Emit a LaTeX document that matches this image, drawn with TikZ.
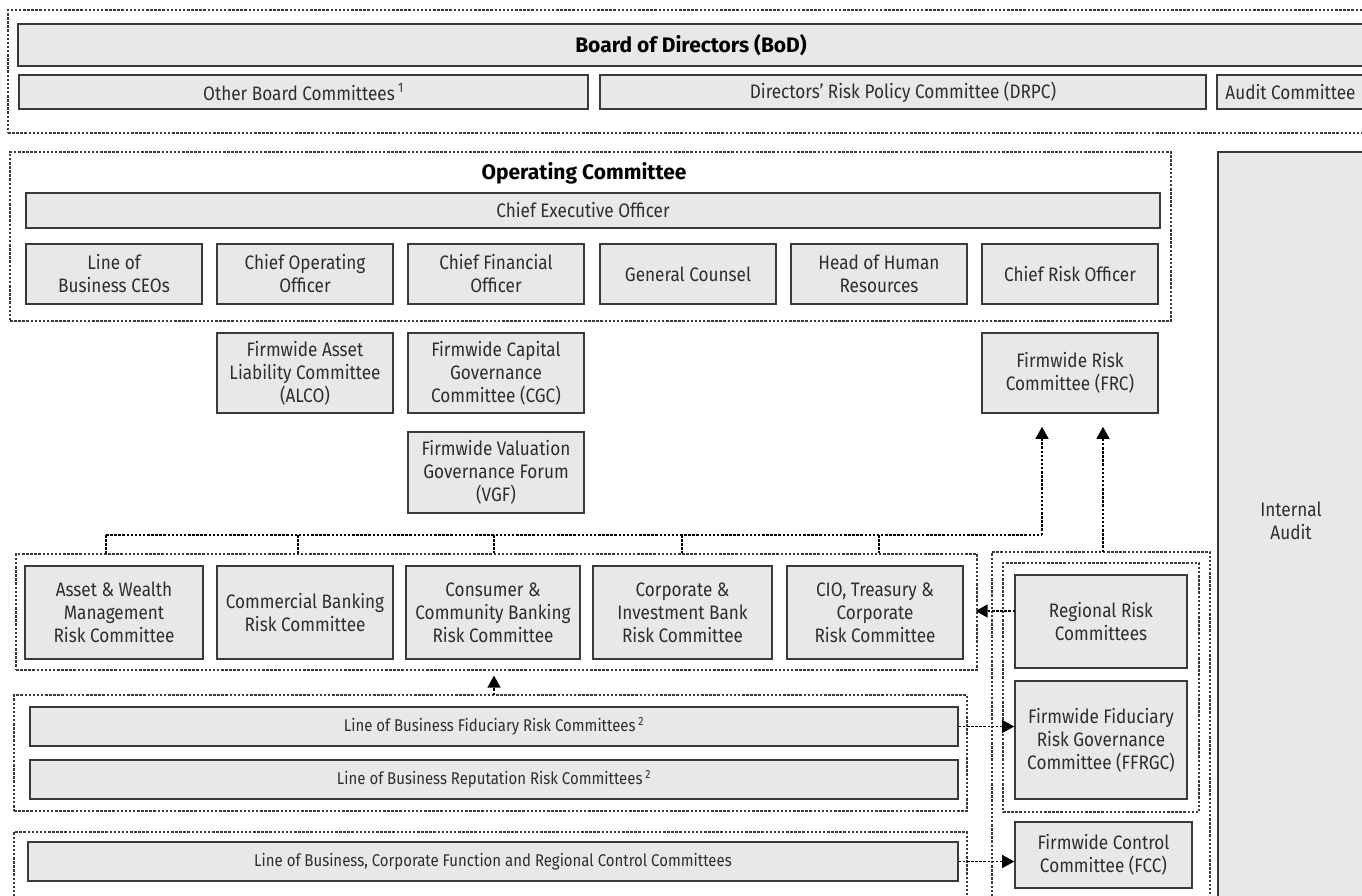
\documentclass[tikz,border=0pt]{standalone}
\usepackage{fontspec}
\setmainfont{Fira Sans}[FakeStretch=0.88]
\newfontfamily\titlefont{Fira Sans}
\usetikzlibrary{arrows.meta,calc}
\definecolor{boxfill}{HTML}{E8E8E8}
\definecolor{boxline}{HTML}{3A3A3A}
\definecolor{txt}{HTML}{2E2E2E}
\tikzset{
  box/.style={draw=boxline, fill=boxfill, line width=1.6pt, inner sep=0pt, align=center, text=txt, font=\fontsize{19.5}{23}\selectfont},
  grp/.style={draw=boxline, line width=1.2pt, dash pattern=on 2.5pt off 1.6pt, inner sep=0pt},
  conn/.style={draw=black, line width=1.3pt, dash pattern=on 2.5pt off 1.6pt},
  arr/.style={conn, -{Triangle[width=13pt,length=12pt]}},
  lbl/.style={text=txt, align=center, inner sep=0pt, font=\fontsize{19.5}{23}\selectfont},
  title/.style={text=black, inner sep=0pt, font=\titlefont\fontsize{21}{25}\selectfont\bfseries},
  small/.style={font=\fontsize{17}{20}\selectfont}
}
\newcommand\rbox[6]{\node[#1, minimum width={(#5-#3)*1pt}, minimum height={(#6-#4)*1pt}] (#2) at ({(#3+#5)/2},{(#4+#6)/2})}
\begin{document}
\begin{tikzpicture}[x=1pt,y=-1pt]
\useasboundingbox (0,0) rectangle (1362,895);
\clip (0,0) rectangle (1362,895);
% Board of Directors
\rbox{grp}{bodgrp}{8}{10}{1380}{133}{};
\rbox{box}{bod}{18}{24}{1364}{66}{};
\node[title] (bodt) at (691,45) {Board of Directors (BoD)};
\rbox{box}{obc}{19}{75}{588}{109}{Other Board Committees\,\textsuperscript{1}};
\rbox{box}{drpc}{600}{75}{1206}{109}{Directors’ Risk Policy Committee (DRPC)};
\rbox{box}{audit}{1217}{75}{1364}{109}{Audit Committee};
% Operating Committee
\rbox{grp}{opgrp}{10}{152}{1171}{321}{};
\node[title] (opt) at (584,173) {Operating Committee};
\rbox{box}{ceo}{26}{193}{1160}{228}{};
\node[lbl] (ceot) at (583,210) {Chief Executive Officer};
\rbox{box}{lob}{26}{244}{202}{304}{Line of\\Business CEOs};
\rbox{box}{coo}{217}{244}{393}{304}{Chief Operating\\Officer};
\rbox{box}{cfo}{408}{244}{584}{304}{Chief Financial\\Officer};
\rbox{box}{gc}{600}{244}{776}{304}{General Counsel};
\rbox{box}{hhr}{791}{244}{967}{304}{Head of Human\\Resources};
\rbox{box}{cro}{982}{244}{1158}{304}{Chief Risk Officer};
% Internal Audit
\rbox{box}{ia}{1218}{152}{1370}{910}{};
\node[lbl] (iat) at (1291,521) {Internal\\Audit};
% Firmwide committees
\rbox{box}{alco}{217}{333}{393}{413}{Firmwide Asset\\Liability Committee\\(ALCO)};
\rbox{box}{cgc}{408}{333}{584}{413}{Firmwide Capital\\Governance\\Committee (CGC)};
\rbox{box}{vgf}{408}{432}{584}{513}{Firmwide Valuation\\Governance Forum\\(VGF)};
\rbox{box}{frc}{982}{333}{1158}{413}{Firmwide Risk\\Committee (FRC)};
% Risk committees
\rbox{grp}{rgrp}{16}{554}{977}{670}{};
\rbox{box}{awm}{25}{566}{203}{659}{Asset \& Wealth\\Management\\Risk Committee};
\rbox{box}{cb}{217}{566}{393}{659}{Commercial Banking\\Risk Committee};
\rbox{box}{ccb}{406}{566}{580}{659}{Consumer \&\\Community Banking\\Risk Committee};
\rbox{box}{cib}{593}{566}{772}{659}{Corporate \&\\Investment Bank\\Risk Committee};
\rbox{box}{cio}{787}{566}{963}{659}{CIO, Treasury \&\\Corporate\\Risk Committee};
% Line of business groups
\rbox{grp}{lobgrp}{14}{695}{967}{811}{};
\rbox{box}{fid}{30}{707}{958}{746}[small]{Line of Business Fiduciary Risk Committees\,\textsuperscript{2}};
\rbox{box}{rep}{30}{760}{958}{799}[small]{Line of Business Reputation Risk Committees\,\textsuperscript{2}};
\rbox{grp}{ctlgrp}{14}{832}{967}{910}{};
\rbox{box}{ctl}{28}{842}{958}{881}[small]{Line of Business, Corporate Function and Regional Control Committees};
% Right column
\rbox{grp}{rout}{992}{552}{1210}{910}{};
\rbox{grp}{rin}{1003}{563}{1199}{812}{};
\rbox{box}{reg}{1015}{575}{1187}{668}{Regional Risk\\Committees};
\rbox{box}{ffrgc}{1015}{681}{1187}{799}{Firmwide Fiduciary\\Risk Governance\\Committee (FFRGC)};
\rbox{box}{fcc}{1015}{822}{1192}{888}{Firmwide Control\\Committee (FCC)};
% Connectors
\coordinate (t1) at (106,535);
\coordinate (t2) at (298,535);
\coordinate (t3) at (494,535);
\coordinate (t4) at (682,535);
\coordinate (t5) at (879,535);
\coordinate (tr) at (1042,535);
\draw[conn] (t1) -- (tr);
\foreach \t in {t1,t2,t3,t4,t5} \draw[conn] (\t) -- (\t |- rgrp.north);
\draw[arr, shorten >=13pt] (tr) -- (tr |- frc.south);
\coordinate (a2) at (1103,552);
\draw[arr, shorten >=13pt] (a2) -- (a2 |- frc.south);
\coordinate (r1) at (1015,611);
\draw[arr, shorten >=-2pt] (r1) -- (r1 -| rgrp.east);
\draw[arr] (fid.east) -- (fid.east -| ffrgc.west);
\draw[arr] (ctl.east) -- (ctl.east -| fcc.west);
\coordinate (a3) at (494,695);
\draw[arr, shorten >=5pt] (a3) -- (a3 |- rgrp.south);
\end{tikzpicture}
\end{document}
